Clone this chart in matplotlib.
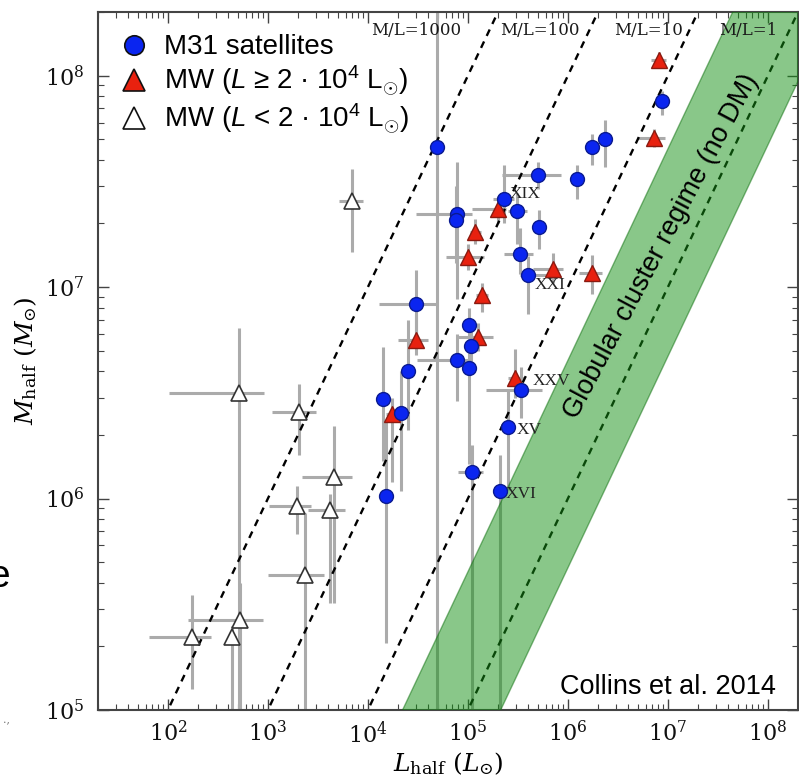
import numpy as np
import matplotlib
matplotlib.use("Agg")
import matplotlib.pyplot as plt
from matplotlib.font_manager import FontProperties
from matplotlib.lines import Line2D

plt.rcParams["font.family"] = ["DejaVu Serif"]
plt.rcParams["mathtext.fontset"] = "dejavuserif"
plt.rcParams["mathtext.rm"] = "Liberation Sans"
plt.rcParams["mathtext.it"] = "Liberation Sans:italic"
plt.rcParams["mathtext.bf"] = "Liberation Sans:bold"

# ---- M31 satellites: L_half, M_half and error ranges (lo/hi bounds) ----
m31_L = [4.95e4, 7.7e4, 7.6e4, 3.05e4, 5.05e5, 2.31e5, 3.11e5, 5.16e5, 3.33e5, 4.0e5,
         1.03e5, 1.08e5, 7.83e4, 1.03e5, 2.54e4, 1.43e4, 2.16e4, 3.41e5, 2.53e5, 1.11e5,
         2.1e5, 1.53e4, 8.7e6, 2.35e6, 1.75e6, 1.24e6]
m31_M = [4.6e7, 2.22e7, 2.07e7, 8.3e6, 3.38e7, 2.6e7, 2.29e7, 1.92e7, 1.44e7, 1.14e7,
         6.65e6, 5.24e6, 4.5e6, 4.13e6, 3.99e6, 2.95e6, 2.53e6, 3.25e6, 2.18e6, 1.34e6,
         1.08e6, 1.03e6, 7.55e7, 5.0e7, 4.58e7, 3.24e7]
m31_L_lo = [4.5e4, 3.05e4, 6.5e4, 1.28e4, 2.2e5, 1.8e5, 2.5e5, 4.6e5, 2.3e5, 3.3e5,
            9.0e4, 9.5e4, 3.1e4, 9.0e4, 2.2e4, 1.3e4, 1.9e4, 1.5e5, 2.1e5, 8.0e4,
            1.8e5, 1.4e4, 7.5e6, 2.1e6, 1.55e6, 1.05e6]
m31_L_hi = [5.5e4, 1.1e5, 9.0e4, 4.95e4, 8.5e5, 2.9e5, 3.9e5, 5.8e5, 4.5e5, 6.0e5,
            1.2e5, 1.25e5, 1.0e5, 1.2e5, 2.9e4, 1.6e4, 2.5e4, 5.5e5, 2.8e5, 1.4e5,
            2.3e5, 1.7e4, 1.0e7, 2.7e6, 1.95e6, 1.45e6]
m31_M_lo = [5e4, 8.8e6, 1.3e7, 6.0e6, 2.9e7, 2.0e7, 1.6e7, 1.52e7, 1.15e7, 7.5e6,
            5.0e6, 4.2e6, 2.9e6, 1.45e6, 2.1e6, 1.5e6, 1.08e6, 2.4e6, 1.1e6, 5e4,
            5e4, 2.07e5, 6.5e7, 3.7e7, 3.8e7, 2.6e7]
m31_M_hi = [3e8, 3.9e7, 3.0e7, 1.2e7, 3.9e7, 3.8e7, 2.8e7, 2.32e7, 1.9e7, 1.4e7,
            8.0e6, 6.5e6, 6.0e6, 5.5e6, 7.0e6, 5.2e6, 4.0e6, 4.2e6, 3.3e6, 1.8e6,
            1.6e6, 2.3e6, 8.5e7, 6.2e7, 5.3e7, 3.8e7]

# ---- Milky Way satellites, L >= 2e4 Lsun ----
mwb_L = [8.1e6, 7.24e6, 1.74e6, 7.1e5, 2.01e5, 1.19e5, 1.01e5, 1.39e5, 1.27e5, 3.05e4,
         1.76e4, 2.97e5]
mwb_M = [1.18e8, 5.06e7, 1.17e7, 1.22e7, 2.34e7, 1.82e7, 1.39e7, 9.2e6, 5.83e6, 5.65e6,
         2.51e6, 3.7e6]
mwb_L_lo = [6.8e6, 4.9e6, 1.3e6, 4.5e5, 1.1e5, 1.05e5, 6.0e4, 1.2e5, 7.8e4, 2.0e4,
            1.5e4, 2.5e5]
mwb_L_hi = [9.5e6, 9.4e6, 2.2e6, 9.0e5, 2.4e5, 1.35e5, 1.45e5, 1.6e5, 1.8e5, 4.0e4,
            2.1e4, 3.6e5]
mwb_M_lo = [1.1e8, 4.6e7, 9.3e6, 1.05e7, 2.0e7, 1.6e7, 1.2e7, 7.6e6, 5.0e6, 4.8e6,
            1.2e6, 3.0e6]
mwb_M_hi = [1.3e8, 5.6e7, 1.42e7, 1.45e7, 2.7e7, 2.1e7, 1.6e7, 1.05e7, 6.8e6, 7.5e6,
            3.0e6, 5.1e6]

# ---- Milky Way satellites, L < 2e4 Lsun ----
mwf_L = [7.0e3, 512, 2.03e3, 4.54e3, 1.94e3, 4.14e3, 2.33e3, 174, 524, 436]
mwf_M = [2.55e7, 3.15e6, 2.56e6, 1.27e6, 9.25e5, 8.86e5, 4.37e5, 2.21e5, 2.66e5, 2.21e5]
mwf_L_lo = [5.1e3, 102, 1.09e3, 2.17e3, 1.02e3, 2.5e3, 995, 65, 158, 400]
mwf_L_hi = [9.0e3, 908, 3.0e3, 6.86e3, 2.67e3, 5.97e3, 3.6e3, 270, 887, 475]
mwf_M_lo = [1.47e7, 5e4, 1.6e6, 3.2e5, 6.8e5, 3.2e5, 5e4, 1.26e5, 5e4, 5e4]
mwf_M_hi = [3.6e7, 6.44e6, 3.47e6, 2.2e6, 1.15e6, 1.05e6, 8.5e5, 3.5e5, 3.97e5, 2.5e5]

# constant mass-to-light ratio reference lines and the globular cluster band
ml_ratios = [1000, 100, 10, 1]
ml_labels = ["M/L=1000", "M/L=100", "M/L=10", "M/L=1"]
ml_label_x = [0.454, 0.631, 0.787, 0.929]
gc_ml_range = [0.47, 4.5]

# named dwarf labels: (index into M31 arrays, text, offset in points)
named = [(5, "XIX", (4, 4)), (9, "XXI", (5, -7)), (17, "XXV", (8, 7)),
         (18, "XV", (6, -2)), (20, "XVI", (4, -2))]


def err(v, lo, hi):
    v, lo, hi = map(np.asarray, (v, lo, hi))
    return [v - lo, hi - v]


fig = plt.figure(figsize=(7.99, 7.76), dpi=100)
ax = fig.add_axes([98 / 799, 1 - 710 / 776, 700 / 799, 698 / 776])
ax.set_xscale("log")
ax.set_yscale("log")
ax.set_xlim(20, 2e8)
ax.set_ylim(1e5, 2e8)

ecol = "#ababab"
for L, M, Llo, Lhi, Mlo, Mhi in [
        (mwf_L, mwf_M, mwf_L_lo, mwf_L_hi, mwf_M_lo, mwf_M_hi),
        (mwb_L, mwb_M, mwb_L_lo, mwb_L_hi, mwb_M_lo, mwb_M_hi),
        (m31_L, m31_M, m31_L_lo, m31_L_hi, m31_M_lo, m31_M_hi)]:
    ax.errorbar(L, M, xerr=err(L, Llo, Lhi), yerr=err(M, Mlo, Mhi), fmt="none",
                ecolor=ecol, elinewidth=2.2, capsize=0, zorder=2)

Lgrid = np.logspace(0, 10, 200)
for r in ml_ratios:
    ax.plot(Lgrid, r * Lgrid, color="black", ls=(0, (3.0, 2.6)), lw=1.7, zorder=2.5)
for r, lab, xf in zip(ml_ratios, ml_labels, ml_label_x):
    ax.text(xf, 0.974, lab, transform=ax.transAxes, ha="center", va="center",
            fontsize=12, color="#1a1a1a", zorder=6)

ax.fill_between(Lgrid, gc_ml_range[0] * Lgrid, gc_ml_range[1] * Lgrid,
                facecolor="#149114", alpha=0.5, edgecolor="#0c6e0c", lw=1.0, zorder=3)

ax.plot(mwf_L, mwf_M, ls="none", marker="^", ms=11, mfc="white", mec="#333333",
        mew=1.2, zorder=5)
ax.plot(mwb_L, mwb_M, ls="none", marker="^", ms=11, mfc="#e8210f", mec="#8a1a10",
        mew=1.0, zorder=5)
ax.plot(m31_L, m31_M, ls="none", marker="o", ms=10, mfc="#0a25f0", mec="#0a1a90",
        mew=1.0, zorder=6)

for i, txt, off in named:
    ax.annotate(txt, (m31_L[i], m31_M[i]), xytext=off, textcoords="offset points",
                ha="left", va="center", fontsize=12.5, color="#222222", zorder=7,
                fontfamily="Liberation Serif")

ax.text(0.805, 0.664, "Globular cluster regime (no DM)", transform=ax.transAxes,
        rotation=62, ha="center", va="center", fontsize=19.5,
        fontfamily="Liberation Sans", color="black", zorder=7)
ax.text(0.968, 0.033, "Collins et al. 2014", transform=ax.transAxes,
        ha="right", va="center", fontsize=19.5, fontfamily="Liberation Sans",
        color="black", zorder=7)

handles = [
    Line2D([], [], ls="none", marker="o", ms=10, mfc="#0a25f0", mec="#111111", mew=1.2),
    Line2D([], [], ls="none", marker="^", ms=11, mfc="#e8210f", mec="#111111", mew=1.2),
    Line2D([], [], ls="none", marker="^", ms=11, mfc="white", mec="#111111", mew=1.2),
]
labels = ["M31 satellites",
          r"MW ($\mathit{L}$ ≥ 2 · 10$^4$ L$_{\odot}$)",
          r"MW ($\mathit{L}$ < 2 · 10$^4$ L$_{\odot}$)"]
leg_font = FontProperties(family="Liberation Sans", size=20, math_fontfamily="custom")
ax.legend(handles, labels, loc="upper left", bbox_to_anchor=(0.031, 0.968),
          frameon=False, prop=leg_font, markerscale=1.4, handlelength=1.0,
          handletextpad=0.6, labelspacing=0.12, borderpad=0, borderaxespad=0)

ax.tick_params(which="both", direction="in", top=True, right=True,
               colors="#444444", labelcolor="#111111")
ax.tick_params(which="major", length=8, width=1.0, labelsize=16, pad=8)
ax.tick_params(axis="y", which="major", pad=10)
ax.tick_params(which="minor", length=4, width=0.8)
for s in ax.spines.values():
    s.set_color("#444444")
    s.set_linewidth(1.5)

ax.set_xlabel(r"$L_{\rm half}\ (L_{\odot})$", fontsize=18, labelpad=2)
ax.set_ylabel(r"$M_{\rm half}\ (M_{\odot})$", fontsize=18, labelpad=4)

fig.text(10 / 799, 1 - 587 / 776, "e", ha="right", va="baseline", fontsize=28,
         fontfamily="Liberation Sans")
fig.text(3 / 799, 1 - 720 / 776, ".,", ha="left", va="center", fontsize=8,
         color="#777777")

fig.savefig("out.png", dpi=100)
